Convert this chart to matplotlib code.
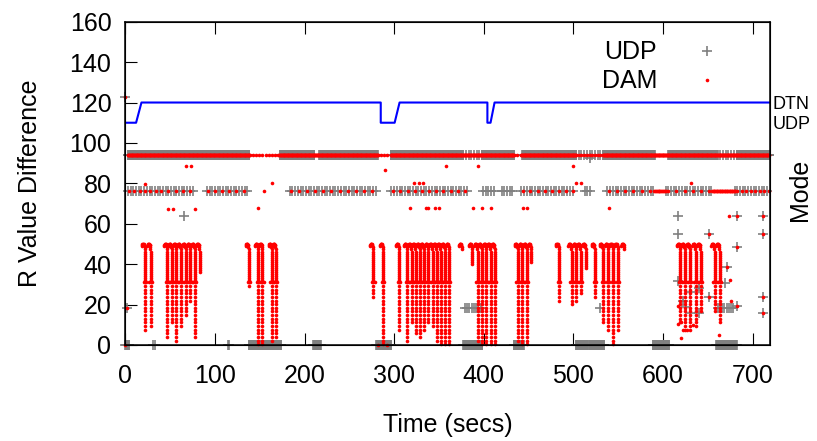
import numpy as np
import matplotlib.pyplot as plt
from matplotlib.lines import Line2D

plt.rcParams['font.family'] = ['Liberation Sans', 'DejaVu Sans']

GRIS = '#808080'
ROUGE = '#ff0000'

# --- mode (ligne bleue) ---
MODE_T = [0, 12, 18, 285, 285, 300.5, 306, 404, 404, 407.5, 412, 719]
MODE_V = [110, 110, 120, 120, 110, 110, 120, 120, 110, 110, 120, 120]

# --- pics DAM : instant de la chute et valeur la plus basse ---
PIC_T = [22, 28.3,
         47, 52, 57, 62, 67.5, 72.5, 77.5, 83,
         138, 148.3, 153, 163.5, 168,
         276.7, 287.7,
         305.6, 314.6, 319.4, 323.9, 328.7, 333.1, 338, 342.8, 347.3, 351.7, 356.5, 361.3,
         376,
         387, 393, 398, 403, 407.5, 412.5,
         438, 443, 448, 453,
         484,
         498, 503, 508, 514,
         524,
         533, 538.7, 544.2, 549.8,
         557,
         619.4, 624.5, 630, 636.5, 642,
         657.5, 663]
PIC_FIN = [7.4, 8.6,
           4, 10, 1.6, 7.8, 13.5, 20.8, 3, 35.5,
           28, 0, 0, 1, 3,
           23, 0,
           7.4, 2, 10, 5, 3, 7, 10, 8, 1, 0, 0, 0,
           47,
           40, 1, 0, 0, 0, 0,
           1, 0, 0, 41,
           22,
           20, 22, 25.6, 38,
           23,
           10.7, 7.4, 0, 7.4,
           47,
           10, 7, 7, 9, 16.5,
           16, 10]

# forme d'un pic
PIC_HAUT_DT = [-3.7, -3.3, -2.9, -2.5, -2.1, -1.7, -1.3, -0.9, -0.6, -0.3, 0.0]
PIC_HAUT_V = [49.0, 49.6, 49.9, 50.0, 50.0, 49.9, 49.7, 49.3, 48.6, 47.6, 46.2]
PIC_CORPS_V = [45, 44, 43, 42, 41, 40, 39, 38, 37, 36, 35, 34, 33, 32, 31]
PIC_QUEUE_V = [29.2, 27.4, 25.6, 23.8, 22.0, 20.2, 18.4, 16.6, 14.8, 13.0, 11.2,
               9.4, 7.6, 5.8, 4.0, 2.2, 0.4]
PIC_COTE_DT = [-1.6, 1.4]

# --- bandes (debut, fin, pas) ---
ROUGE_94 = [(3, 139, 0.5), (139, 172, 3.5), (172, 282, 0.5), (282, 296, 3.5),
            (296, 434, 0.5), (434, 442, 3.5), (442, 503, 0.5), (503, 533, 3),
            (533, 719, 0.5)]
GRIS_94 = [(3, 139, 0.5), (172.5, 211.5, 0.5), (216.5, 282, 0.5), (296, 377, 0.5),
           (377, 397.5, 3), (397.5, 434.5, 0.5), (443, 503, 0.5), (503, 533, 3),
           (533, 590.6, 0.5), (605.6, 661, 0.5), (661, 681, 3), (682, 719, 0.5)]
GRIS_76 = [(3, 37, 3), (39, 76, 3), (91, 139, 3), (183.5, 282, 3),
           (297, 384, 3), (399, 412, 3), (420, 433, 3), (442, 501.5, 3),
           (512.7, 520, 3), (538, 590.6, 3), (603, 655, 3), (680, 719, 3)]
ROUGE_76 = [(4, 37, 6), (40, 76, 8), (92, 134, 8), (185, 282, 9), (299, 384, 8),
            (444, 501, 8), (540, 590, 9), (590, 604, 1), (606, 655, 9),
            (655, 681, 0.8), (683, 719, 5)]
GRIS_0 = [(0, 5, 0.5), (31, 35, 2), (114.5, 117.5, 1.5), (138, 174.4, 0.5),
          (209.7, 218.3, 0.5), (280, 297, 0.5), (377, 398.6, 0.5), (433.5, 444.6, 0.5),
          (502.6, 517, 0.5), (518, 535, 0.5), (588.5, 607.4, 0.5), (659.5, 682.5, 0.5)]
GRIS_18 = [(379, 397.5, 2.5), (661, 680.5, 2.5)]

# --- points isolés ---
UDP_T = [0, 2, 65.4, 518, 529.4, 616.5, 616.5, 616.5, 651.7, 651.7, 682.5, 682.5,
         682.5, 671.3, 669, 711, 711, 711, 711, 629.7, 629.7, 639.8, 639.8, 626, 622]
UDP_V = [122.8, 18.2, 63.9, 92.4, 18.2, 63.9, 54.8, 31.5, 54.8, 23.9, 63.9, 48.3,
         19.3, 38.8, 30.5, 63.9, 54.8, 23.9, 15.7, 26.4, 15.7, 28, 15.7, 19, 22]
DAM_T = [0, 2, 0, 67.7, 72.9, 22, 48, 52.8, 77.7, 148.3, 163.6, 155, 290.3, 317.5,
         322, 327.5, 332.4, 335.8, 338, 345, 349.5, 357.6, 387.4, 393, 398, 408,
         443.2, 448.3, 499, 503.4, 509, 539.5, 631.4, 674, 682.5, 711, 651.7, 711,
         682.5, 674.6, 671.3, 651.7, 676, 711, 711, 682.5, 662, 616.7, 620.5, 616.7,
         622, 620, 627, 633, 282, 291.5]
DAM_V = [122.8, 18.3, 0, 88.8, 88.8, 79.9, 67.3, 67.3, 67.3, 67.7, 80, 76.2, 86.6,
         67.7, 80, 80, 80, 67.7, 67.7, 67.7, 67.7, 88.6, 67.7, 88.8, 67.7, 67.7,
         67.7, 67.7, 88.8, 80, 80, 67.7, 80, 63.9, 63.9, 63.9, 54.8, 54.8, 48.3,
         32.2, 38.8, 23.9, 22, 23.9, 15.7, 19.3, 5, 19.5, 11.5, 10.5, 7.4, 3.6,
         7.4, 10, 0, 0]


def bande(segments, niveau):
    t = np.concatenate([np.arange(a, b, p) for a, b, p in segments])
    return t, np.full(t.size, niveau)


def pics():
    tt, vv = [], []
    for t0, fin in zip(PIC_T, PIC_FIN):
        for dt, v in zip(PIC_HAUT_DT, PIC_HAUT_V):
            if v >= fin:
                tt.append(t0 + dt)
                vv.append(v)
        for v in PIC_CORPS_V + PIC_QUEUE_V:
            if v >= fin:
                tt.append(t0)
                vv.append(v)
        if fin < 31:
            for dt in PIC_COTE_DT:
                tt.append(t0 + dt)
                vv.append(31)
    return tt, vv


fig = plt.figure(figsize=(8.17, 4.41), dpi=100)
ax = fig.add_axes([0.1534, 0.2177, 0.7887, 0.7331])

style_udp = dict(ls='none', marker='+', ms=6.6, mew=1.2, color=GRIS, clip_on=False)
style_dam = dict(ls='none', marker='o', ms=2.6, mew=0, color=ROUGE, clip_on=False)

# UDP
for segs, niv in [(GRIS_94, 94), (GRIS_76, 76), (GRIS_0, 0), (GRIS_18, 18.2)]:
    t, v = bande(segs, niv)
    ax.plot(t, v, **style_udp)
ax.plot(UDP_T, UDP_V, **style_udp)

# DAM
for segs, niv in [(ROUGE_94, 94), (ROUGE_76, 76)]:
    t, v = bande(segs, niv)
    ax.plot(t, v, **style_dam)
pt, pv = pics()
ax.plot(pt, pv, **style_dam)
ax.plot(DAM_T, DAM_V, **style_dam)

ax.plot(MODE_T, MODE_V, color='#0000ff', lw=1.5)

ax.set_xlim(0, 719)
ax.set_ylim(0, 160)
ax.set_xticks(range(0, 701, 100))
ax.set_yticks(range(0, 161, 20))
ax.tick_params(direction='in', length=8.5, width=0.8, labelsize=18, top=True,
               right=True)
ax.tick_params(axis='x', pad=14)
ax.tick_params(axis='y', pad=10)
for s in ax.spines.values():
    s.set_linewidth(1.1)
ax.set_xlabel('Time (secs)', fontsize=18, labelpad=18)
ax.set_ylabel('R Value Difference', fontsize=18, labelpad=20)

ax2 = ax.twinx()
ax2.set_ylim(0, 160)
ax2.set_yticks([110, 120])
ax2.set_yticklabels(['UDP', 'DTN'], fontsize=13)
ax2.tick_params(length=0, pad=2)
fig.text(800 / 817, 1 - 190 / 441, 'Mode', fontsize=18, rotation=90,
         ha='center', va='center')

poignees = [Line2D([], [], **style_udp), Line2D([], [], **style_dam)]
ax.legend(poignees, ['UDP', 'DAM'], loc='upper right', bbox_to_anchor=(0.922, 0.942),
          markerfirst=False, frameon=False, fontsize=18, handlelength=1.0,
          handletextpad=1.5, labelspacing=0.2, borderpad=0, borderaxespad=0)

fig.savefig('out.png', dpi=100)
